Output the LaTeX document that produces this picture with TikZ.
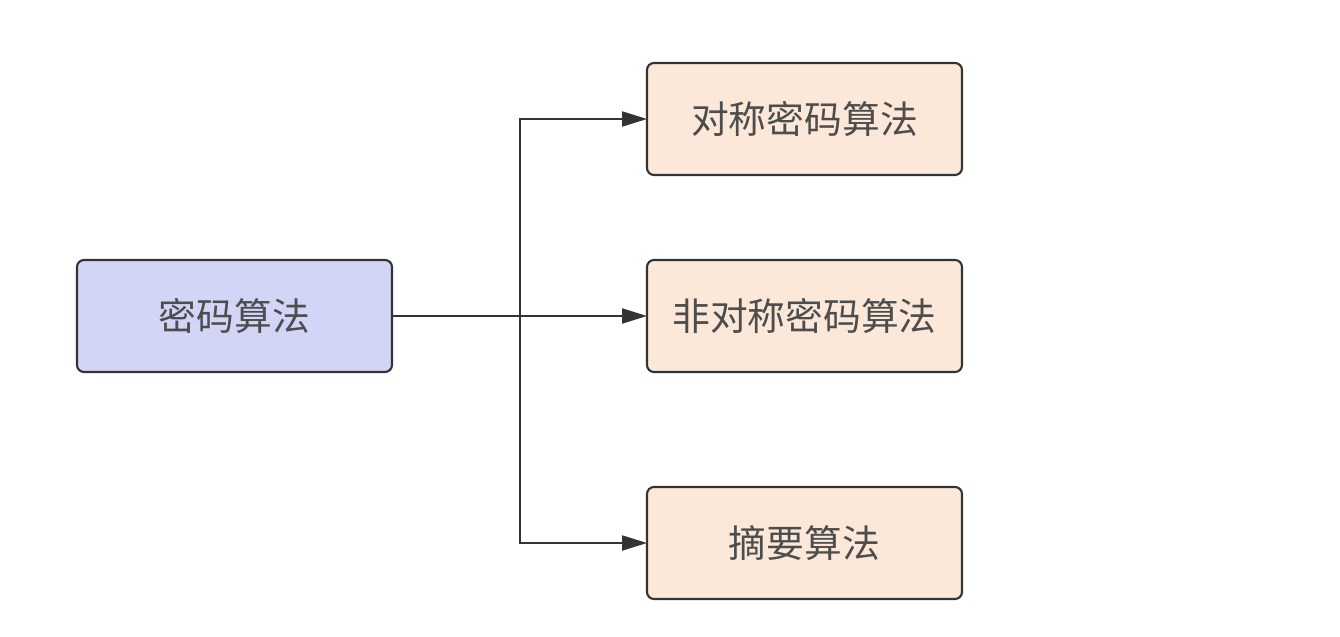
\documentclass[tikz,border=0pt]{standalone}
\usepackage{fontspec}
\newfontfamily\cjk{Noto Sans CJK SC}
\usetikzlibrary{positioning,arrows.meta}

\definecolor{rootfill}{HTML}{D3D5F7}
\definecolor{leaffill}{HTML}{FBE8D8}
\definecolor{edgegray}{HTML}{333333}
\definecolor{textgray}{HTML}{4D4D4D}

\begin{document}
\begin{tikzpicture}[every node/.style={outer sep=0pt},
		box/.style={draw=edgegray,line width=1.2pt,rounded corners=4pt,
			minimum width=6.3cm,minimum height=2.24cm,text=textgray,
			font=\cjk\fontsize{21.5}{26}\selectfont},
		rootbox/.style={box,fill=rootfill},
		leafbox/.style={box,fill=leaffill},
		link/.style={draw=edgegray,line width=1.2pt,
			-{Triangle[length=0.5cm,width=0.3cm]}}]
		
		\useasboundingbox (0,0) rectangle (26.8,-12.74);
		
		\node[rootbox] (algo) at (4.69,-6.32) {密码算法};
		\node[leafbox,right=5.1cm of algo] (asym) {非对称密码算法};
		\node[leafbox,above=1.7cm of asym] (sym) {对称密码算法};
		\node[leafbox,below=2.3cm of asym] (hash) {摘要算法};
		
		\draw[link] (algo.east) -- ++(2.56,0) coordinate (split) -- (asym.west);
		\draw[link] (split) |- (sym.west);
		\draw[link] (split) |- (hash.west);
		
	\end{tikzpicture}
\end{document}
